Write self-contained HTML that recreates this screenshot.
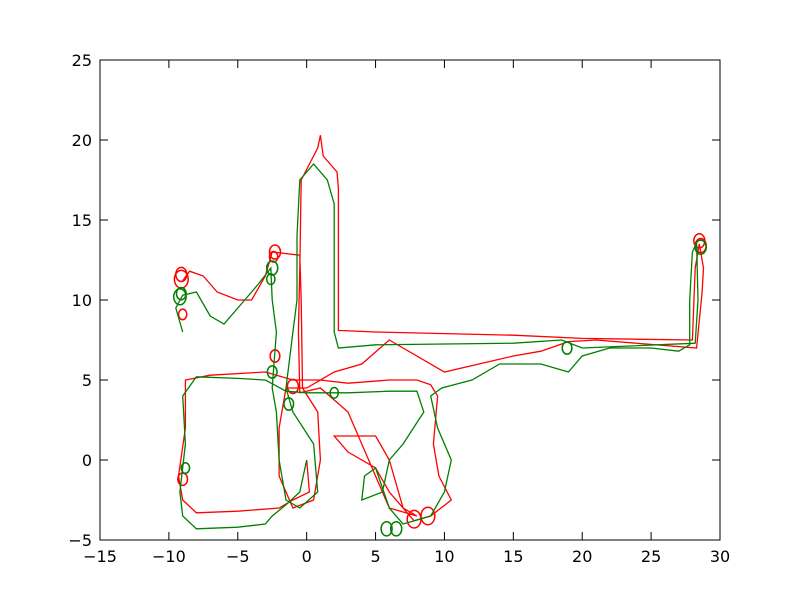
<!DOCTYPE html>
<html><head><meta charset="utf-8"><style>
body{margin:0;background:#fff;}
svg{display:block;font-family:"DejaVu Sans","Liberation Sans",sans-serif;}
</style></head><body>
<svg id="chart" width="800" height="600">
<rect width="800" height="600" fill="#fff"/>
<g id="plot"></g>
<g id="axes"></g>
</svg>
<script>
const xTicks=[-15,-10,-5,0,5,10,15,20,25,30];
const yTicks=[-5,0,5,10,15,20,25];
const redPath=[[0,0],[0.2,-2],[-1,-2.5],[-2,-3],[-5,-3.2],[-8,-3.3],[-9,-2.5],[-9.3,-1],[-8.8,2],[-8.8,5],[-7,5.3],[-3,5.5],[-1,5],[1,5],[3,4.8],[6,5],[8,5],[9,4.7],[9.5,4],[9.2,1],[9.6,-1],[10.5,-2.5],[9,-3.5],[7.8,-3.8],[6,-2],[5,-0.5],[3,0.5],[2,1.5],[5,1.5],[6,0],[7,-3],[8,-3.5],[6,-3],[3,3],[1,4.5],[-0.5,4.2],[-0.6,8],[-0.5,12],[-0.4,17.5],[0.8,19.5],[1,20.3],[1.2,19],[2.2,18],[2.3,17],[2.3,8.1],[5,8],[15,7.8],[20,7.6],[28,7.5],[28.2,12],[28.5,13.5],[28.8,12],[28.7,10.5],[28.3,7],[21,7.5],[19,7.4],[17,6.8],[15,6.5],[10,5.5],[6,7.5],[4,6],[2,5.5],[0,4.5],[-1.5,4.5],[-2,2],[-2,-1],[-1,-3],[0.5,-2.5],[1,0],[0.8,3],[-0.3,4.5],[-0.4,10],[-0.5,12.8],[-2.5,13],[-3,11.5],[-4,10],[-5,10],[-6.5,10.5],[-7.5,11.5],[-8.5,11.8],[-9,11.2]];
const greenPath=[[0,0],[-0.5,-2],[-1.5,-2.8],[-2.5,-3.5],[-3,-4],[-5,-4.2],[-8,-4.3],[-9,-3.5],[-9.2,-2],[-8.8,1],[-9,4],[-8,5.2],[-5,5.1],[-3,5],[-1.5,4.3],[0,4.2],[3,4.2],[6,4.3],[8,4.3],[8.5,3],[7,1],[6,0],[5.5,-2],[4,-2.5],[4.2,-1],[5,-0.5],[6,-3],[7,-4],[9,-3.5],[10,-2],[10.5,0],[9.5,2],[9,4],[9.8,4.5],[12,5],[14,6],[17,6],[19,5.5],[20,6.5],[22,7],[25,7],[27,6.8],[27.8,7.2],[27.8,10],[28,13],[28.3,13.6],[28.4,10],[28.2,7.3],[20,7],[18.5,7.5],[15,7.3],[5,7.2],[2.3,7],[2,8],[2,16],[1.5,17.5],[0.5,18.5],[-0.5,17.5],[-0.7,14],[-0.7,10],[-1,8],[-1.5,4.5],[-1,3],[0.5,1],[0.8,-2],[-0.5,-3],[-1.5,-2.5],[-2,0],[-2.2,3],[-2.5,4.5],[-2.2,8],[-2.5,10],[-2.6,12],[-3.5,11],[-4,10.5],[-6,8.5],[-7,9],[-8,10.5],[-9,10.3],[-9.5,9.5],[-9,8]];
const redLoops=[[-9.1,11.3,0.5],[-9.1,11.6,0.4],[-2.3,13,0.4],[-2.4,12.7,0.3],[28.5,13.7,0.4],[28.6,13.4,0.4],[8.8,-3.5,0.5],[7.8,-3.7,0.5],[-9,9.1,0.3],[-2.3,6.5,0.35],[-1,4.6,0.4],[-9,-1.2,0.35]];
const greenLoops=[[-9.2,10.2,0.45],[-9.1,10.4,0.35],[-2.5,12,0.4],[-2.6,11.3,0.3],[28.6,13.3,0.4],[5.8,-4.3,0.4],[6.5,-4.3,0.4],[18.9,7,0.35],[-2.5,5.5,0.35],[-1.3,3.5,0.35],[2,4.2,0.3],[-8.8,-0.5,0.3]];
const X0=100,X1=720,Y0=540,Y1=60,xmin=-15,xmax=30,ymin=-5,ymax=25;
const sx=v=>X0+(v-xmin)/(xmax-xmin)*(X1-X0);
const sy=v=>Y0-(v-ymin)/(ymax-ymin)*(Y0-Y1);
const NS="http://www.w3.org/2000/svg";
const plot=document.getElementById('plot'),axes=document.getElementById('axes');
function mk(t,a,p){const e=document.createElementNS(NS,t);for(const k in a)e.setAttribute(k,a[k]);p.appendChild(e);return e;}
function drawPath(pts,color,name){
 const el=mk('polyline',{points:pts.map(p=>sx(p[0]).toFixed(1)+','+sy(p[1]).toFixed(1)).join(' '),fill:'none',stroke:color,'stroke-width':1.3},plot);
 
 
}
function drawLoops(l,color,name){
 l.forEach(c=>{const el=mk('ellipse',{cx:sx(c[0]),cy:sy(c[1]),rx:c[2]*(X1-X0)/(xmax-xmin),ry:c[2]*(Y0-Y1)/(ymax-ymin)*1.1,fill:'none',stroke:color,'stroke-width':1.5},plot);
 
 });
}
drawPath(redPath,'#ff0000','red-trajectory');
drawLoops(redLoops,'#ff0000','red-loop');
drawPath(greenPath,'#008000','green-trajectory');
drawLoops(greenLoops,'#008000','green-loop');
const fr=mk('rect',{x:X0,y:Y1,width:X1-X0,height:Y0-Y1,fill:'none',stroke:'#000','stroke-width':1},axes);


xTicks.forEach(v=>{const x=sx(v);
 mk('line',{x1:x,x2:x,y1:Y0,y2:Y0-8,stroke:'#000'},axes);
 mk('line',{x1:x,x2:x,y1:Y1,y2:Y1+8,stroke:'#000'},axes);
 const t=mk('text',{x:x,y:Y0+22,'text-anchor':'middle','font-size':16},axes);t.textContent=v<0?'\u2212'+(-v):v;
 
 });
yTicks.forEach(v=>{const y=sy(v);
 mk('line',{x1:X0,x2:X0+8,y1:y,y2:y,stroke:'#000'},axes);
 mk('line',{x1:X1,x2:X1-8,y1:y,y2:y,stroke:'#000'},axes);
 const t=mk('text',{x:X0-8,y:y+6,'text-anchor':'end','font-size':16},axes);t.textContent=v<0?'\u2212'+(-v):v;
 
 });
</script>
</body></html>
